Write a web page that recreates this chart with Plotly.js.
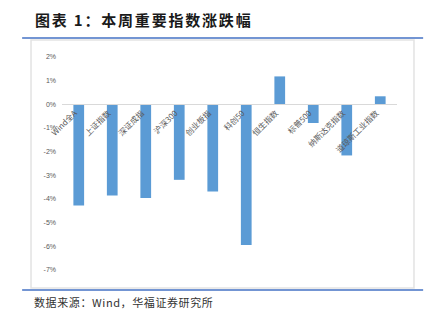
<!DOCTYPE html>
<html>
<head>
<meta charset="utf-8">
<script src="https://cdn.plot.ly/plotly-3.0.1.min.js"></script>
<style>
html,body{margin:0;padding:0;background:#fff;}
#chart{width:445px;height:315px;}
g.annotation[data-index="0"] text{letter-spacing:1.8px;}
g.annotation[data-index="1"] text{letter-spacing:0.6px;}
</style>
</head>
<body>
<div id="chart"></div>
<script>
const categories = ['Wind全A','上证指数','深证成指','沪深300','创业板指','科创50','恒生指数','标普500','纳斯达克指数','道琼斯工业指数'];
const changes = [-4.27, -3.85, -3.96, -3.19, -3.68, -5.94, 1.18, -0.79, -2.16, 0.34];
const yTickVals = [2, 1, 0, -1, -2, -3, -4, -5, -6, -7];
const yTickText = ['2%', '1%', '0%', '-1%', '-2%', '-3%', '-4%', '-5%', '-6%', '-7%'];

const yMin = -7, yMax = 2;
const cjk = '"Noto Sans CJK SC", "Noto Sans", sans-serif';

const trace = {
  type: 'bar',
  x: categories,
  y: changes,
  marker: {color: '#5b9bd5'},
  hoverinfo: 'skip'
};

const layout = {
  width: 445, height: 315,
  margin: {l: 62, r: 48, t: 57, b: 45},
  paper_bgcolor: '#ffffff',
  plot_bgcolor: '#ffffff',
  showlegend: false,
  bargap: 0.68,
  xaxis: {
    type: 'category',
    anchor: 'free',
    position: (0 - yMin) / (yMax - yMin),
    showline: true, linecolor: '#d9d9d9', linewidth: 1,
    showgrid: false, zeroline: false,
    ticks: '', tickangle: -45,
    tickfont: {family: cjk, size: 8, color: '#595959'},
    ticklabelstandoff: 0,
    ticklabelshift: -4
  },
  yaxis: {
    range: [yMin, yMax],
    tickvals: yTickVals, ticktext: yTickText,
    showgrid: false, zeroline: false, showline: false,
    ticks: '', ticklabelstandoff: 5,
    tickfont: {family: '"Liberation Sans", Arial, sans-serif', size: 7, color: '#595959'}
  },
  shapes: [
    {type: 'rect', xref: 'paper', yref: 'paper', x0: -0.0925, x1: 1.0507, y0: -0.0845, y1: 1.080,
     line: {color: '#e3e3e3', width: 1.5}, fillcolor: 'rgba(0,0,0,0)', layer: 'below'},
    {type: 'line', xref: 'paper', yref: 'paper', x0: -0.119, x1: 1.078, y0: 1.089, y1: 1.089,
     line: {color: '#4472c4', width: 1.5}},
    {type: 'line', xref: 'paper', yref: 'paper', x0: -0.119, x1: 1.078, y0: -0.094, y1: -0.094,
     line: {color: '#4472c4', width: 1.5}}
  ],
  annotations: [
    {text: '<b>图表 1：本周重要指数涨跌幅</b>', xref: 'paper', yref: 'paper', x: -0.087, y: 1.174,
     xanchor: 'left', yanchor: 'middle', align: 'left', showarrow: false,
     font: {family: cjk, size: 15, color: '#1a1a1a'}},
    {text: '数据来源：Wind，华福证券研究所', xref: 'paper', yref: 'paper', x: -0.09, y: -0.150,
     xanchor: 'left', yanchor: 'middle', align: 'left', showarrow: false,
     font: {family: cjk, size: 11, color: '#333333'}}
  ]
};

Plotly.newPlot('chart', [trace], layout, {displayModeBar: false, staticPlot: true});
</script>
</body>
</html>
